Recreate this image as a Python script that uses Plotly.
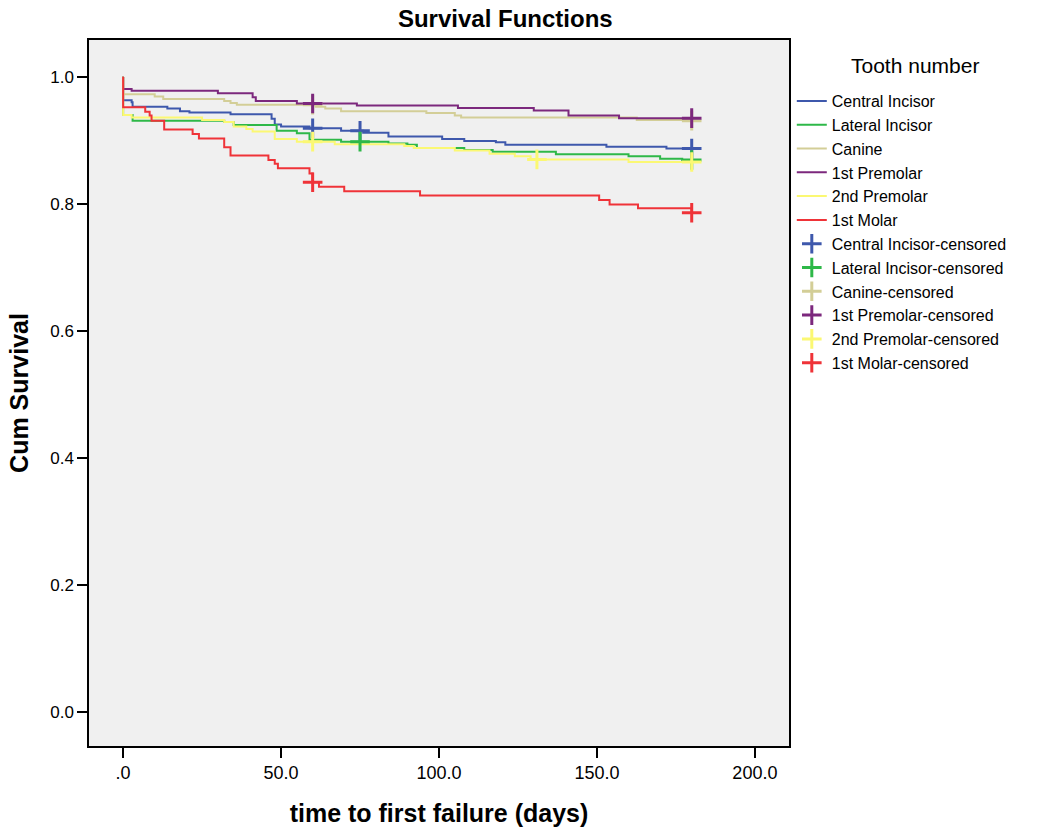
import plotly.graph_objects as go

# ---- data ----
groups = ["Central Incisor", "Lateral Incisor", "Canine", "1st Premolar", "2nd Premolar", "1st Molar"]
colors = ["#3E58AC", "#2EB848", "#D3CE97", "#7C287D", "#FBF873", "#EF3338"]

ci_t = [0, 0, 2.7, 3, 14, 18, 21, 34, 47, 48, 50, 59, 69, 76, 84, 101, 108, 118, 121, 153, 172, 180]
ci_s = [1.0, 0.963, 0.960, 0.953, 0.950, 0.946, 0.944, 0.941, 0.934, 0.925, 0.922, 0.919, 0.915, 0.912, 0.906, 0.902, 0.899, 0.897, 0.893, 0.890, 0.887, 0.887]
ci_ct = [60, 75, 180]
ci_cs = [0.919, 0.915, 0.887]

li_t = [0, 0, 3, 32, 35, 48.6, 55, 59, 69, 84, 90, 93, 108, 117, 137, 160, 170, 177, 180]
li_s = [1.0, 0.940, 0.931, 0.929, 0.924, 0.915, 0.911, 0.901, 0.898, 0.895, 0.893, 0.888, 0.885, 0.882, 0.878, 0.875, 0.871, 0.869, 0.869]
li_ct = [75, 180]
li_cs = [0.898, 0.869]

ca_t = [0, 0, 10, 12.7, 32, 34, 36, 61, 64, 69, 96, 105, 107, 162.6, 180]
ca_s = [1.0, 0.9725, 0.969, 0.965, 0.962, 0.959, 0.956, 0.953, 0.950, 0.946, 0.943, 0.939, 0.936, 0.932, 0.932]
ca_ct = [60, 180]
ca_cs = [0.956, 0.931]

p1_t = [0, 0, 2.7, 30, 41, 42, 55, 74, 106, 130, 141, 157, 180]
p1_s = [1.0, 0.981, 0.978, 0.974, 0.968, 0.962, 0.958, 0.955, 0.951, 0.947, 0.939, 0.935, 0.935]
p1_ct = [60, 180]
p1_cs = [0.958, 0.935]

p2_t = [0, 0, 2.7, 25, 32, 35, 39, 41, 48, 55, 67, 89, 92, 105, 116, 124, 129, 160, 180]
p2_s = [1.0, 0.940, 0.936, 0.932, 0.929, 0.922, 0.918, 0.914, 0.902, 0.898, 0.894, 0.891, 0.888, 0.884, 0.879, 0.875, 0.870, 0.866, 0.866]
p2_ct = [60, 131, 180]
p2_cs = [0.898, 0.870, 0.866]

m1_t = [0, 0, 7, 8.4, 9, 13, 22, 24, 32, 34, 46, 48, 49, 59, 60, 62, 70, 94, 150.7, 154, 163, 180]
m1_s = [1.0, 0.952, 0.945, 0.939, 0.931, 0.917, 0.910, 0.903, 0.889, 0.876, 0.869, 0.863, 0.856, 0.848, 0.834, 0.827, 0.820, 0.813, 0.806, 0.799, 0.793, 0.786]
m1_ct = [60, 180]
m1_cs = [0.834, 0.786]

curves = [(ci_t, ci_s), (li_t, li_s), (ca_t, ca_s), (p1_t, p1_s), (p2_t, p2_s), (m1_t, m1_s)]
censored = [(ci_ct, ci_cs), (li_ct, li_cs), (ca_ct, ca_cs), (p1_ct, p1_cs), (p2_ct, p2_cs), (m1_ct, m1_cs)]

x_tickvals = [0, 50, 100, 150, 200]
x_ticktext = [".0", "50.0", "100.0", "150.0", "200.0"]
y_tickvals = [0.0, 0.2, 0.4, 0.6, 0.8, 1.0]
y_ticktext = ["0.0", "0.2", "0.4", "0.6", "0.8", "1.0"]

FONT = "Liberation Sans, Arial, sans-serif"

fig = go.Figure()
for name, col, (t, s) in zip(groups, colors, curves):
    fig.add_trace(go.Scatter(x=t, y=s, mode="lines", name=name,
                             line=dict(color=col, width=2, shape="hv")))
for name, col, (t, s) in zip(groups, colors, censored):
    fig.add_trace(go.Scatter(x=t, y=s, mode="markers", name=name + "-censored",
                             marker=dict(symbol="cross-thin", size=14, color=col,
                                         line=dict(color=col, width=3))))

fig.add_annotation(text="Tooth number", xref="paper", yref="paper",
                   x=(915 - 89) / 700, y=(746 - 65) / 706, xanchor="center", yanchor="middle",
                   showarrow=False, font=dict(family=FONT, size=21, color="black"))

fig.update_layout(
    width=1044, height=830,
    margin=dict(l=89, r=255, t=40, b=84, autoexpand=False),
    paper_bgcolor="white",
    plot_bgcolor="#F0F0F0",
    title=dict(text="<b>Survival Functions</b>", x=0.484, xref="container",
               y=0.978, yref="container", xanchor="center", yanchor="middle",
               font=dict(family=FONT, size=24, color="black")),
    showlegend=True,
    legend=dict(x=1.004, y=(746 - 84) / 706, xanchor="left", yanchor="top",
                bgcolor="rgba(0,0,0,0)",
                font=dict(family=FONT, size=16, color="black"),
                tracegroupgap=0, itemwidth=30),
    xaxis=dict(range=[-10.8, 210.8], tickvals=x_tickvals, ticktext=x_ticktext,
               ticks="outside", ticklen=10, tickwidth=1.5, tickcolor="black",
               showline=True, linecolor="black", linewidth=1.5, mirror=True,
               showgrid=False, zeroline=False, automargin=False,
               tickfont=dict(family=FONT, size=18, color="black"),
               title=dict(text="<b>time to first failure (days)</b>", standoff=22,
                          font=dict(family=FONT, size=25, color="black"))),
    yaxis=dict(range=[-0.0535, 1.058], tickvals=y_tickvals, ticktext=y_ticktext,
               ticks="outside", ticklen=10, tickwidth=1.5, tickcolor="black",
               showline=True, linecolor="black", linewidth=1.5, mirror=True,
               showgrid=False, zeroline=False, automargin=False,
               tickfont=dict(family=FONT, size=17, color="black"),
               title=dict(text="<b>Cum Survival</b>", standoff=14,
                          font=dict(family=FONT, size=25, color="black"))),
)

fig.write_html("out.html", config={"displayModeBar": False},
               post_script="document.body.style.margin='0';document.body.style.overflow='hidden';")
